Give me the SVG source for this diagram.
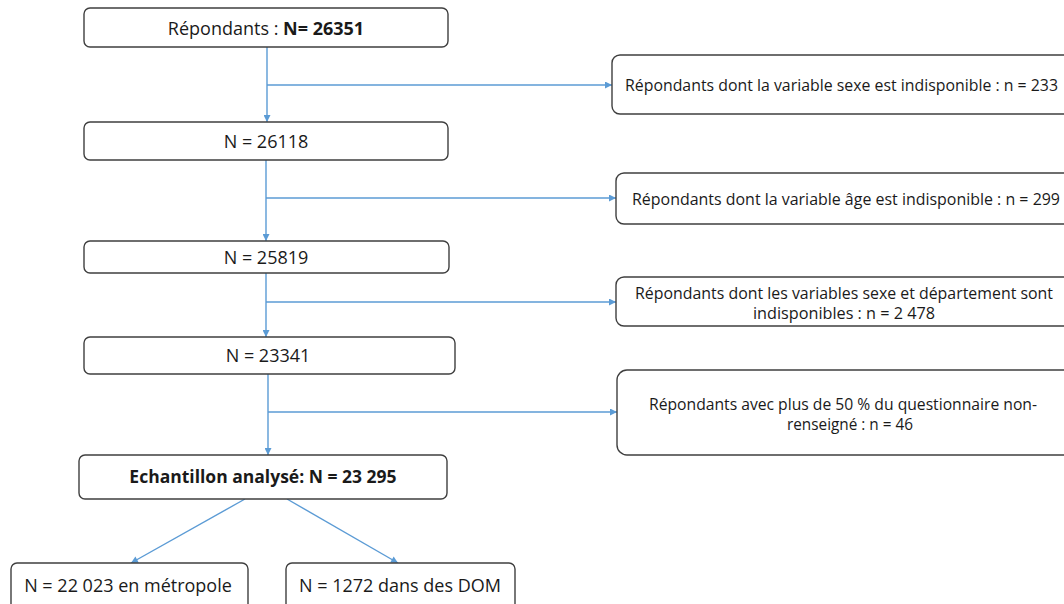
<svg xmlns="http://www.w3.org/2000/svg" width="1064" height="604" viewBox="0 0 1064 604">
<style>
.box{fill:#fff;stroke:#3f3f3f;stroke-width:1.4}
.t{font-family:"Open Sans","Liberation Sans",sans-serif;font-size:17px;fill:#1a1a1a}
.L{font-size:18px}
.c{text-anchor:middle}
.b{font-weight:bold}
.ln{fill:none;stroke:#5b9bd5;stroke-width:1.4;marker-end:url(#ah)}
</style>
<defs>
<marker id="ah" viewBox="0 0 10 10" refX="10" refY="5" markerWidth="8" markerHeight="7" markerUnits="userSpaceOnUse" orient="auto">
<path d="M0,0 L10,5 L0,10 z" fill="#5b9bd5"/>
</marker>
</defs>
<rect width="1064" height="604" fill="#fff"/>
<g id="connectors">
<line class="ln" x1="267" y1="47" x2="267" y2="122"/>
<line class="ln" x1="267" y1="85" x2="612" y2="85"/>
<line class="ln" x1="266" y1="160" x2="266" y2="241"/>
<line class="ln" x1="266" y1="198" x2="616" y2="198"/>
<line class="ln" x1="266" y1="273" x2="266" y2="337"/>
<line class="ln" x1="266" y1="302" x2="616" y2="302"/>
<line class="ln" x1="268" y1="374" x2="268" y2="455"/>
<line class="ln" x1="268" y1="412" x2="617" y2="412"/>
<line class="ln" x1="245" y1="499" x2="131" y2="563"/>
<line class="ln" x1="287" y1="499" x2="398" y2="563"/>
</g>
<g id="n1"><rect class="box" x="84" y="8" width="364" height="39" rx="6"/><text class="t L c" x="266" y="35">Répondants : <tspan class="b">N= 26351</tspan></text></g>
<g id="n2"><rect class="box" x="84" y="122" width="364" height="38" rx="6"/><text class="t L c" x="266" y="148">N = 26118</text></g>
<g id="n3"><rect class="box" x="84" y="241" width="365" height="32" rx="6"/><text class="t L c" x="266" y="264">N = 25819</text></g>
<g id="n4"><rect class="box" x="84" y="337" width="371" height="37" rx="6"/><text class="t L c" x="268" y="362">N = 23341</text></g>
<g id="n5"><rect class="box" x="79" y="455" width="368" height="44" rx="6"/><text class="t c b" x="263" y="483" style="font-size:17.5px">Echantillon analysé: N = 23 295</text></g>
<g id="n6"><rect class="box" x="11" y="563" width="237" height="50" rx="6"/><text class="t L c" x="128" y="592">N = 22 023 en métropole</text></g>
<g id="n7"><rect class="box" x="286" y="563" width="229" height="50" rx="6"/><text class="t L c" x="400" y="592">N = 1272 dans des DOM</text></g>
<g id="r1"><rect class="box" x="612" y="55" width="470" height="59" rx="8"/><text class="t" x="625" y="91" textLength="433" lengthAdjust="spacingAndGlyphs">Répondants dont la variable sexe est indisponible : n = 233</text></g>
<g id="r2"><rect class="box" x="616" y="173" width="470" height="51" rx="8"/><text class="t" x="632" y="205" textLength="428" lengthAdjust="spacingAndGlyphs">Répondants dont la variable âge est indisponible : n = 299</text></g>
<g id="r3"><rect class="box" x="616" y="277" width="470" height="49" rx="8"/><text class="t c" x="844" y="299" textLength="418" lengthAdjust="spacingAndGlyphs">Répondants dont les variables sexe et département sont</text><text class="t c" x="844" y="319" textLength="182" lengthAdjust="spacingAndGlyphs">indisponibles :  n = 2 478</text></g>
<g id="r4"><rect class="box" x="617" y="370" width="470" height="85" rx="10"/><text class="t c" x="843" y="410" textLength="388" lengthAdjust="spacingAndGlyphs">Répondants avec plus de 50 % du questionnaire non-</text><text class="t c" x="850" y="430" textLength="126" lengthAdjust="spacingAndGlyphs">renseigné : n = 46</text></g>
</svg>
